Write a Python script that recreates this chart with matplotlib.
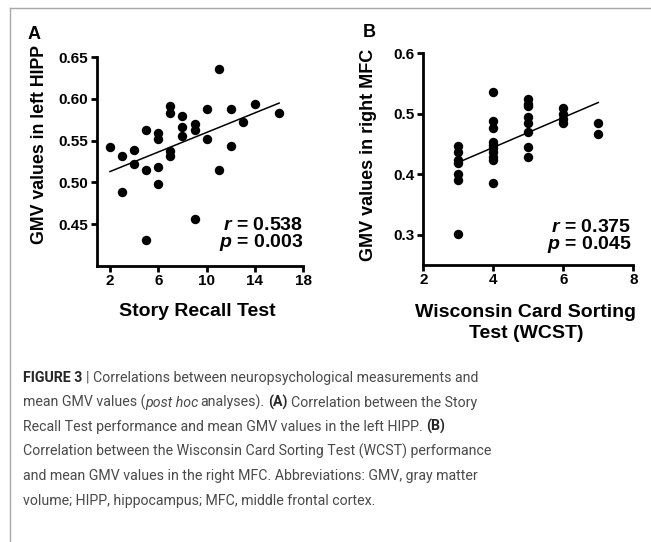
import numpy as np
import matplotlib
matplotlib.use('Agg')
import matplotlib.pyplot as plt
from matplotlib.lines import Line2D

# Panel A: Story Recall Test vs GMV in left HIPP
story_recall = [2, 3, 3, 4, 4, 5, 5, 5, 6, 6, 6, 6, 7, 7, 7, 7, 8, 8, 8, 9, 9, 9,
                10, 10, 11, 11, 12, 12, 13, 14, 16]
gmv_hipp = [0.542, 0.531, 0.488, 0.539, 0.522, 0.563, 0.515, 0.431, 0.559, 0.552,
            0.518, 0.498, 0.591, 0.583, 0.538, 0.531, 0.580, 0.566, 0.556, 0.570,
            0.563, 0.456, 0.588, 0.552, 0.636, 0.515, 0.588, 0.543, 0.572, 0.594,
            0.583]
stats_a = ['0.538', '0.003']

# Panel B: WCST vs GMV in right MFC
wcst = [3, 3, 3, 3, 3, 3, 3,
        4, 4, 4, 4, 4, 4, 4, 4, 4, 4,
        5, 5, 5, 5, 5, 5, 5, 5,
        6, 6, 6, 6,
        7, 7]
gmv_mfc = [0.447, 0.436, 0.424, 0.418, 0.401, 0.390, 0.302,
           0.536, 0.488, 0.476, 0.453, 0.448, 0.443, 0.437, 0.429, 0.423, 0.386,
           0.524, 0.517, 0.513, 0.494, 0.484, 0.470, 0.445, 0.429,
           0.509, 0.500, 0.491, 0.484,
           0.485, 0.466]
stats_b = ['0.375', '0.045']

plt.rcParams['font.family'] = ['Liberation Sans', 'DejaVu Sans']
plt.rcParams['font.weight'] = 'bold'
plt.rcParams['mathtext.fontset'] = 'custom'
plt.rcParams['mathtext.it'] = 'Liberation Sans:italic:bold'
plt.rcParams['mathtext.rm'] = 'Liberation Sans:bold'

W, H = 651, 542
fig = plt.figure(figsize=(W / 100, H / 100), dpi=100)


def style_axes(ax):
    for side in ['top', 'right']:
        ax.spines[side].set_visible(False)
    for side in ['left', 'bottom']:
        ax.spines[side].set_linewidth(2)
    ax.tick_params(direction='out', length=4, width=2, pad=2, labelsize=11)
    for lab in ax.get_xticklabels() + ax.get_yticklabels():
        lab.set_fontweight('bold')


def scatter_fit(ax, x, y):
    x = np.array(x, dtype=float)
    y = np.array(y)
    ax.scatter(x, y, s=46, color='black', zorder=3, linewidths=0)
    k, b = np.polyfit(x, y, 1)
    xs = np.array([x.min(), x.max()])
    ax.plot(xs, k * xs + b, color='black', lw=1.1)


def stats_text(ax, xpos, ypos, stats):
    ax.text(xpos, ypos, '$r$ = %s\n$p$ = %s' % (stats[0], stats[1]),
            transform=ax.transAxes, ha='right', va='baseline',
            multialignment='right', linespacing=0.9,
            fontsize=14, fontweight='bold')


# ---- A ----
ax1 = fig.add_axes([96.7 / W, 1 - 265.7 / H, 206.6 / W, 208.4 / H])
scatter_fit(ax1, story_recall, gmv_hipp)
ax1.set_xlim(0.9, 18)
ax1.set_ylim(0.40, 0.65)
ax1.set_xticks([2, 6, 10, 14, 18])
ax1.set_yticks([0.45, 0.50, 0.55, 0.60, 0.65])
ax1.set_yticklabels(['0.45', '0.50', '0.55', '0.60', '0.65'])
style_axes(ax1)
ax1.set_xlabel('Story Recall Test', fontsize=14, fontweight='bold')
ax1.xaxis.set_label_coords(0.488, -0.221)
ax1.get_xaxis().label.set_va('center')
ax1.set_ylabel('GMV values in left HIPP', fontsize=12.8, fontweight='bold')
ax1.yaxis.set_label_coords(-0.277, 0.582)
ax1.get_yaxis().label.set_va('center')
stats_text(ax1, 1.0, 0.088, stats_a)

# ---- B ----
ax2 = fig.add_axes([423.3 / W, 1 - 265 / H, 210 / W, 211.7 / H])
scatter_fit(ax2, wcst, gmv_mfc)
ax2.set_xlim(2, 8)
ax2.set_ylim(0.25, 0.6)
ax2.set_xticks([2, 4, 6, 8])
ax2.set_yticks([0.3, 0.4, 0.5, 0.6])
style_axes(ax2)
ax2.set_xlabel('Wisconsin Card Sorting\nTest (WCST)', fontsize=14,
               fontweight='bold', linespacing=1.3)
ax2.xaxis.set_label_coords(0.489, -0.272)
ax2.get_xaxis().label.set_va('center')
ax2.set_ylabel('GMV values in right MFC', fontsize=13, fontweight='bold')
ax2.yaxis.set_label_coords(-0.259, 0.520)
ax2.get_yaxis().label.set_va('center')
stats_text(ax2, 0.992, 0.074, stats_b)

# panel letters
fig.text(28 / W, 1 - 39 / H, 'A', fontsize=13, fontweight='bold', va='baseline')
fig.text(363 / W, 1 - 37 / H, 'B', fontsize=13, fontweight='bold', va='baseline')

# frame lines
fig.add_artist(Line2D([9.5 / W, 9.5 / W], [0, 1 - 8 / H], color='#a8a8a8', lw=1))
fig.add_artist(Line2D([9.5 / W, 1], [1 - 8 / H, 1 - 8 / H], color='#a8a8a8', lw=1))

# caption
renderer = fig.canvas.get_renderer()
cap = dict(fontsize=10, family=['Roboto', 'DejaVu Sans'], color='#4a4a4a',
           va='baseline', fontweight='normal')
# fit font size so the longest line spans like the reference (~467 px)
probe = fig.text(0, 0, 'Correlation between the Wisconsin Card Sorting Test (WCST) performance', **cap)
cap['fontsize'] = 10 * 467 / probe.get_window_extent(renderer).width
probe.remove()
bold = dict(fontweight='bold', color='#262626')
ital = dict(style='italic')
probe1 = fig.text(0, 0, 'x x', **cap)
probe2 = fig.text(0, 0, 'xx', **cap)
space_w = (probe1.get_window_extent(renderer).width
           - probe2.get_window_extent(renderer).width) / W
probe1.remove()
probe2.remove()

caption = [
    [('FIGURE 3', bold), (' | Correlations between neuropsychological measurements and', {})],
    [('mean GMV values (', {}), ('post hoc', ital), (' analyses). ', {}), ('(A)', bold),
     (' Correlation between the Story', {})],
    [('Recall Test performance and mean GMV values in the left HIPP. ', {}), ('(B)', bold)],
    [('Correlation between the Wisconsin Card Sorting Test (WCST) performance', {})],
    [('and mean GMV values in the right MFC. Abbreviations: GMV, gray matter', {})],
    [('volume; HIPP, hippocampus; MFC, middle frontal cortex.', {})],
]
for i, parts in enumerate(caption):
    y = 1 - (382 + i * 24.5) / H
    x = 23 / W
    for txt, kw in parts:
        lead = len(txt) - len(txt.lstrip(' '))
        trail = len(txt) - len(txt.rstrip(' '))
        x += lead * space_w
        style = dict(cap)
        style.update(kw)
        t = fig.text(x, y, txt.strip(), **style)
        x += t.get_window_extent(renderer).width / W + trail * space_w
        if kw is ital:
            x -= 0.4 * space_w

fig.savefig('out.png', dpi=100)
